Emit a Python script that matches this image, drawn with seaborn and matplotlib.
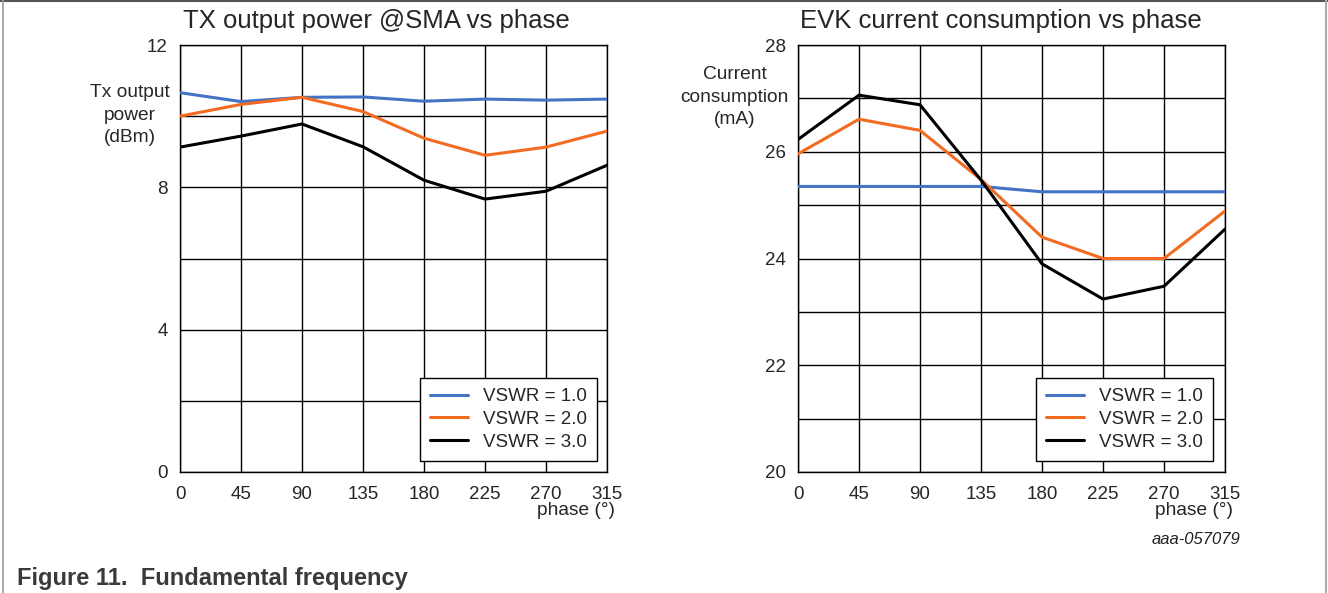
import numpy as np
import pandas as pd
import matplotlib.pyplot as plt
import seaborn as sns
from matplotlib.lines import Line2D

# ── Data ─────────────────────────────────────────────────────────────────────
phase = [0, 45, 90, 135, 180, 225, 270, 315]
vswr_labels = ["VSWR = 1.0", "VSWR = 2.0", "VSWR = 3.0"]

tx_vswr1 = [10.66, 10.41, 10.53, 10.54, 10.42, 10.48, 10.45, 10.48]
tx_vswr2 = [10.00, 10.33, 10.53, 10.13, 9.38, 8.90, 9.13, 9.58]
tx_vswr3 = [9.13, 9.44, 9.78, 9.14, 8.20, 7.67, 7.89, 8.62]

cur_vswr1 = [25.35, 25.35, 25.35, 25.35, 25.25, 25.25, 25.25, 25.25]
cur_vswr2 = [25.96, 26.61, 26.40, 25.48, 24.40, 24.00, 24.00, 24.89]
cur_vswr3 = [26.23, 27.06, 26.88, 25.47, 23.90, 23.24, 23.48, 24.55]

palette = {"VSWR = 1.0": "#4472C4", "VSWR = 2.0": "#F26B21",
           "VSWR = 3.0": "#000000"}


def long_df(series):
    rows = []
    for label, vals in zip(vswr_labels, series):
        for p, v in zip(phase, vals):
            rows.append({"phase": p, "value": v, "VSWR": label})
    return pd.DataFrame(rows)


sns.set_style("white")
plt.rcParams["font.family"] = ["Liberation Sans", "DejaVu Sans"]

fig = plt.figure(figsize=(13.28, 5.93), dpi=100)
ax1 = fig.add_axes([180 / 1328, 1 - 472 / 593, 427 / 1328, 427 / 593])
ax2 = fig.add_axes([798 / 1328, 1 - 472 / 593, 427 / 1328, 427 / 593])

panels = [
    (ax1, [tx_vswr1, tx_vswr2, tx_vswr3], (0, 12), 2, 4,
     "TX output power @SMA vs phase", 0.46, "Tx output\npower\n(dBm)",
     (-0.117, 0.836), (0.977, 0.026)),
    (ax2, [cur_vswr1, cur_vswr2, cur_vswr3], (20, 28), 1, 2,
     "EVK current consumption vs phase", 0.475, "Current\nconsumption\n(mA)",
     (-0.148, 0.878), (0.972, 0.026)),
]

for (ax, series, ylim, grid_step, lab_step, title, title_x, ylab,
     ylab_pos, leg_pos) in panels:
    df = long_df(series)
    sns.lineplot(data=df, x="phase", y="value", hue="VSWR", palette=palette,
                 linewidth=2.2, ax=ax, zorder=3)
    ax.set_xlim(0, 315)
    ax.set_ylim(*ylim)
    ax.set_xticks(phase)
    yt = np.arange(ylim[0], ylim[1] + 0.01, grid_step)
    ax.set_yticks(yt)
    ax.set_yticklabels([f"{v:g}" if (v - ylim[0]) % lab_step == 0 else ""
                        for v in yt])
    ax.grid(True, color="black", linewidth=1.0)
    ax.set_axisbelow(True)
    ax.tick_params(axis="x", length=0, labelsize=13.5, pad=10)
    ax.tick_params(axis="y", length=0, labelsize=13.5, pad=9)
    for s in ax.spines.values():
        s.set_color("black")
        s.set_linewidth(1.0)
    ax.set_xlabel("")
    ax.set_ylabel("")
    ax.set_title(title, fontsize=18.5, pad=12, x=title_x)
    ax.text(ylab_pos[0], ylab_pos[1], ylab, transform=ax.transAxes,
            ha="center", va="center", fontsize=13.8, linespacing=1.4)
    ax.text(1.019, -0.089, "phase (°)", transform=ax.transAxes,
            ha="right", va="center", fontsize=13.8)
    leg = ax.legend(loc="lower right", bbox_to_anchor=leg_pos,
                    fontsize=13.5, frameon=True, fancybox=False,
                    framealpha=1, edgecolor="black", handlelength=2.0,
                    borderpad=0.55, labelspacing=0.3, borderaxespad=0)
    leg.get_frame().set_linewidth(1.0)
    for line in leg.get_lines():
        line.set_linewidth(2.2)

fig.text(1240 / 1328, 1 - 540 / 593, "aaa-057079", ha="right", va="center",
         fontsize=12, style="italic", color="#222222")
fig.text(17 / 1328, 1 - 578 / 593, "Figure 11.  Fundamental frequency",
         ha="left", va="center", fontsize=17, fontweight="bold",
         color="#3a3a3a")

# document frame lines
fig.add_artist(Line2D([0, 1], [0.998, 0.998], color="#555555", linewidth=1.5,
                      transform=fig.transFigure))
fig.add_artist(Line2D([3 / 1328, 3 / 1328], [0, 1], color="#999999",
                      linewidth=1.2, transform=fig.transFigure))
fig.add_artist(Line2D([1326 / 1328, 1326 / 1328], [0, 1], color="#aaaaaa",
                      linewidth=1.5, transform=fig.transFigure))

fig.savefig("out.png", dpi=100)
